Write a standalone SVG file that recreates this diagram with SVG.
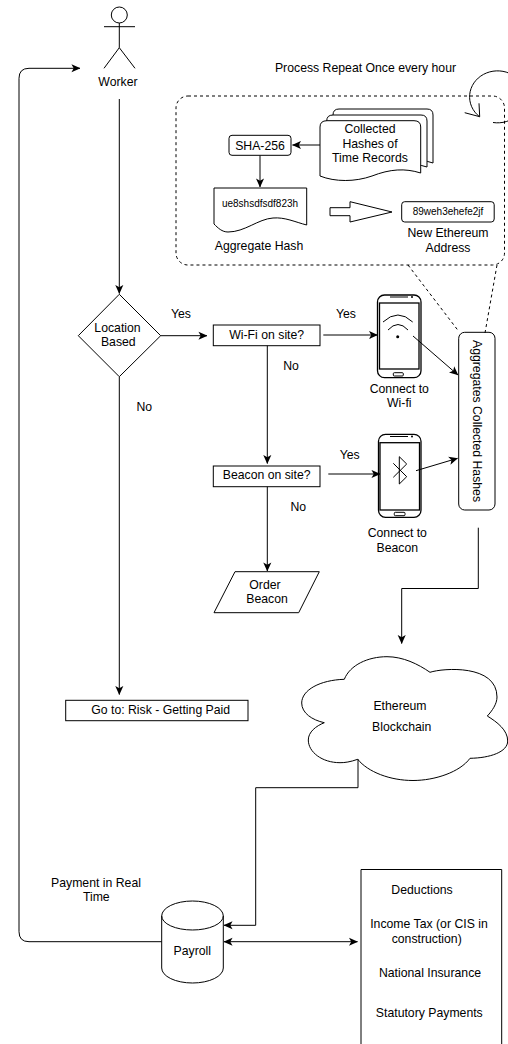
<svg xmlns="http://www.w3.org/2000/svg" width="508" height="1044" viewBox="0 0 508 1044">
<defs>
<marker id="arr" viewBox="0 0 10 10" refX="9.500" refY="5" markerWidth="9" markerHeight="9" markerUnits="userSpaceOnUse" orient="auto-start-reverse"><path d="M0 0.500 L10 5 L0 9.500 L2.500 5 Z" fill="#000"/></marker>
</defs>
<style>
text{font-family:"Liberation Sans",Arial,sans-serif;font-size:12.25px;fill:#000;text-anchor:middle}
.s{fill:#fff;stroke:#000;stroke-width:1}
.p{fill:#fff;stroke:#000;stroke-width:1.300}
.n{fill:none;stroke:#000;stroke-width:1}
.d{fill:none;stroke:#000;stroke-width:1;stroke-dasharray:3 3}
.c{fill:none;stroke:#000;stroke-width:1;marker-end:url(#arr)}
.t{font-size:10px}
</style>
<rect width="508" height="1044" fill="#fff"/>
<g id="repeat-label"><text x="365.500" y="71.700">Process Repeat Once every hour</text></g>
<g id="process-box"><rect class="d" x="176" y="96" width="328.500" height="169" rx="12"/></g>
<path id="repeat-loop" d="M493 122.500A28 26 0 1 0 479.500 116.700M464.700 112.700L479.700 116.700L479 103.300" fill="none" stroke="#000"/>
<g id="collected-hashes">
<path class="s" d="M333 164V115Q333 109 339 109H427Q433 109 433 115V163C418 158 400 158 385 164C368 170 350 170 333 164Z"/>
<path class="s" d="M326.700 170V121Q326.700 115 333 115H421Q427 115 427 121V167C412 162 394 164 379 170C362 176 344 176 326.700 170Z"/>
<path class="s" d="M320 176V127Q320 120.700 327 120.700H414Q420.700 120.700 420.700 127V173C405 168 390 169 372 176C355 182 335 182 320 176Z"/>
<text x="370" y="133">Collected</text><text x="370" y="148">Hashes of</text><text x="370" y="162">Time Records</text>
</g>
<g id="sha256"><rect class="s" x="229" y="135.300" width="62" height="20" rx="3"/><text x="260" y="149.500">SHA-256</text></g>
<g id="aggregate-hash">
<path class="s" d="M214 224V188H306.700V225C295 222 285 217 273 218C258 219 245 232 228 232C222 232 218 228 214 224Z"/>
<text x="260" y="207" class="t">ue8shsdfsdf823h</text>
<text x="259" y="249.500">Aggregate Hash</text>
</g>
<path id="big-arrow" class="s" d="M330 207.700H350V201.700L392 212L350 222V215.700H330Z"/>
<g id="address">
<rect class="s" x="401.700" y="201.700" width="92.500" height="20.300" rx="3"/>
<text x="448" y="215" class="t">89weh3ehefe2jf</text>
<text x="448" y="237">New Ethereum</text><text x="448" y="251.700">Address</text>
</g>
<g id="worker">
<circle class="n" cx="119.300" cy="15" r="8"/>
<path class="n" d="M119.300 23V47.700M104 26.700H135M104 68.300L119.300 47.700L135 68.300"/>
<text x="118" y="86">Worker</text>
</g>
<g id="location"><path class="s" d="M119.300 294.300L160.700 335.700L119.300 376.700L78.300 335.700Z"/><text x="117.500" y="331.700">Location</text><text x="118.300" y="346">Based</text></g>
<g id="wifi-site"><rect class="s" x="213.300" y="325" width="106.700" height="20.700"/><text x="266.700" y="339.300">Wi-Fi on site?</text></g>
<g id="beacon-site"><rect class="s" x="213.300" y="466" width="106.700" height="20.700"/><text x="266.700" y="478.500">Beacon on site?</text></g>
<g id="phone-wifi">
<rect class="p" x="377.500" y="295" width="43.500" height="82.700" rx="7"/>
<rect class="p" x="379.500" y="303" width="39.500" height="66"/>
<path class="n" d="M390 297H408" stroke-width="2"/><circle cx="412" cy="297" r="1" fill="#000"/>
<path class="n" d="M383 322Q398 308 412.700 322M388 330Q398 319 408 330"/><circle cx="397.700" cy="336.700" r="1.500" fill="#000"/>
<rect class="n" x="393.300" y="372.700" width="10" height="3.300" rx="1"/>
<text x="399.300" y="393">Connect to</text><text x="399.300" y="407">Wi-fi</text>
</g>
<g id="phone-beacon">
<rect class="p" x="378.500" y="434.300" width="42.500" height="83" rx="7"/>
<rect class="p" x="380" y="442.700" width="39.500" height="67.300"/>
<path class="n" d="M390 436.500H408" stroke-width="2"/><circle cx="412" cy="436.500" r="1" fill="#000"/>
<path class="n" d="M393.300 463.300L406.700 476.700L399.300 484V456.700L406.700 464L393.300 477.300"/>
<rect class="n" x="394.300" y="512.300" width="10.700" height="3.400" rx="1"/>
<text x="397.300" y="537">Connect to</text><text x="397.300" y="551.700">Beacon</text>
</g>
<g id="aggregates"><rect class="s" x="458.700" y="332.300" width="36.300" height="177.700" rx="6"/><text transform="translate(473.300 421) rotate(90)">Aggregates Collected Hashes</text></g>
<g id="order-beacon"><path class="s" d="M235 571.700H319.300L298.700 612.700H214Z"/><text x="265" y="589">Order</text><text x="267" y="603.300">Beacon</text></g>
<g id="risk"><rect class="s" x="65.700" y="700.300" width="182.300" height="20.400"/><text x="160.700" y="714.300">Go to: Risk - Getting Paid</text></g>
<g id="cloud">
<path class="s" d="M344.300 679.300C350 665 368 656.700 387 656.700C403 656.700 418 664 430 672.300C443 668 497 664 497 697C497 704 492 711 487.300 716C497 722 507.700 730 507.700 741C507.700 752 490 758 470 758.300C460 772 435 780.500 413 780.500C390 780.500 368 772 357.700 759.300C350 762 345 762.700 340 762.700C322 762.700 308.300 752 308.300 740C308.300 732 316 726 324.300 722.700C312 720 301.700 713 301.700 703C301.700 690 320 680 344.300 679.300Z"/>
<text x="400" y="710">Ethereum</text><text x="401.700" y="730.700">Blockchain</text>
</g>
<g id="payroll">
<path class="s" d="M161.700 916A30.800 15 0 0 1 223.300 916V968A30.800 15 0 0 1 161.700 968Z"/>
<path class="n" d="M161.700 916A30.800 14 0 0 0 223.300 916"/>
<text x="192.300" y="955.300">Payroll</text>
</g>
<g id="deductions">
<path class="s" d="M361 1045V869.500H501.700V1045"/>
<text x="422" y="894">Deductions</text>
<text x="429" y="928.300">Income Tax (or CIS in</text><text x="426.700" y="942.700">construction)</text>
<text x="430" y="976.700">National Insurance</text>
<text x="429.300" y="1017">Statutory Payments</text>
</g>
<g id="labels">
<text x="181" y="318.300">Yes</text><text x="291" y="370">No</text><text x="144.300" y="411">No</text>
<text x="346" y="318.300">Yes</text><text x="349.700" y="459">Yes</text><text x="298.300" y="510.700">No</text>
<text x="96" y="886.700">Payment in Real</text><text x="96.300" y="901">Time</text>
</g>
<g id="connectors">
<path class="c" d="M119.300 99V293.500"/>
<path class="c" d="M119.300 377V694.500"/>
<path class="c" d="M160.700 335.700H207"/>
<path class="c" d="M267.300 345.700V463.500"/>
<path class="c" d="M267.300 486.700V571"/>
<path class="c" d="M323.300 335H377.500"/>
<path class="c" d="M328.300 474H380"/>
<path class="c" d="M413 336L458 375"/>
<path class="c" d="M416 470.700L457.500 458.300"/>
<path class="c" d="M478.300 527.700V588.500H401.700V643.500"/>
<path class="c" d="M358 759V787.700H255.700V925.300H224"/>
<path class="c" d="M320 145H292.500"/>
<path class="c" d="M260 155.500V187"/>
<path class="c" d="M161.700 941.700H29Q19 941.700 19 931.700V78.300Q19 68.300 29 68.300H80"/>
<path class="c" d="M224 941.700H357.500" style="marker-start:url(#arr)"/>
<path class="d" d="M408 265L459 331.700"/>
<path class="d" d="M497 265L485 333"/>
</g>
</svg>
